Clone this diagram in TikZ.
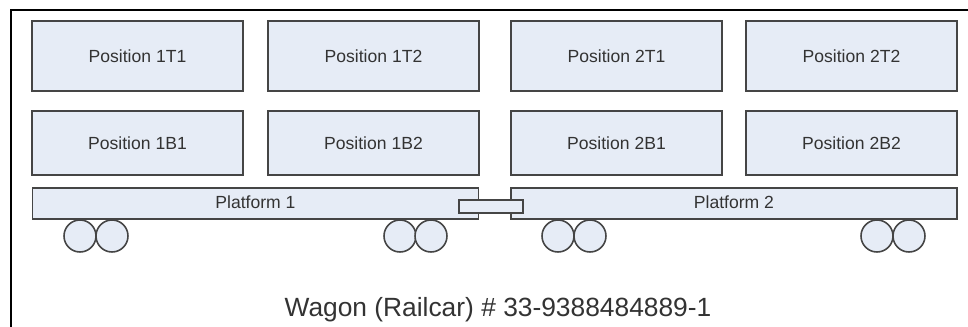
\documentclass[tikz,border=0pt]{standalone}
\usepackage{fontspec}
\setmainfont{Liberation Sans}
\usepackage{xcolor}
\definecolor{boxfill}{HTML}{E6ECF6}
\definecolor{boxline}{HTML}{454545}
\definecolor{textdark}{HTML}{333333}
\usepackage{tikz}
\usetikzlibrary{positioning}
\tikzset{
  posbox/.style={rectangle, draw=boxline, fill=boxfill, line width=0.9pt,
               text=textdark, minimum width=4.22cm, minimum height=1.4cm,
               font=\fontsize{10}{12}\selectfont, align=center},
  posboxb/.style={posbox, minimum height=1.28cm},
  pform/.style={rectangle, draw=boxline, fill=boxfill, line width=0.9pt,
               text=textdark, minimum width=8.93cm, minimum height=0.62cm,
               font=\fontsize{10}{12}\selectfont, inner sep=0pt},
  coupler/.style={rectangle, draw=boxline, fill=boxfill, line width=0.9pt,
               minimum width=1.28cm, minimum height=0.26cm, inner sep=0pt},
  wheel/.style={circle, draw=boxline, fill=boxfill, line width=0.9pt,
               minimum size=0.64cm, inner sep=0pt},
}

\begin{document}
\begin{tikzpicture}[x=0.02cm, y=-0.02cm]
  \useasboundingbox (0,0) rectangle (968,327);
  \clip (0,0) rectangle (968,327);

  % Frame
  \draw[line width=1.2pt] (11,10) rectangle (1000,360);

  % Top positions
  \node[posbox] (p1t1) at (137.5,56) {Position 1T1};
  \node[posbox] (p1t2) at (373.5,56) {Position 1T2};
  \node[posbox] (p2t1) at (616.5,56) {Position 2T1};
  \node[posbox] (p2t2) at (851.5,56) {Position 2T2};

  % Bottom positions
  \node[posboxb] (p1b1) at (137.5,143) {Position 1B1};
  \node[posboxb] (p1b2) at (373.5,143) {Position 1B2};
  \node[posboxb] (p2b1) at (616.5,143) {Position 2B1};
  \node[posboxb] (p2b2) at (851.5,143) {Position 2B2};

  % Platforms
  \node[pform] (pf1) at (255.5,203.5) {\raisebox{2pt}{Platform 1}};
  \node[pform] (pf2) at (734,203.5)   {\raisebox{2pt}{Platform 2}};
  \node[coupler] (cpl) at (491,206.5) {};

  % Wheels
  \node[wheel] (w1a) at (80,236)  {};
  \node[wheel] (w1b) at (112,236) {};
  \node[wheel] (w1c) at (400,236) {};
  \node[wheel] (w1d) at (431,236) {};
  \node[wheel] (w2a) at (558,236) {};
  \node[wheel] (w2b) at (590,236) {};
  \node[wheel] (w2c) at (877,236) {};
  \node[wheel] (w2d) at (909,236) {};

  % Caption
  \node[anchor=base, text=textdark, font=\fontsize{15}{18}\selectfont] (cap) at (498,317)
    {Wagon (Railcar) \# 33-9388484889-1};
\end{tikzpicture}
\end{document}
